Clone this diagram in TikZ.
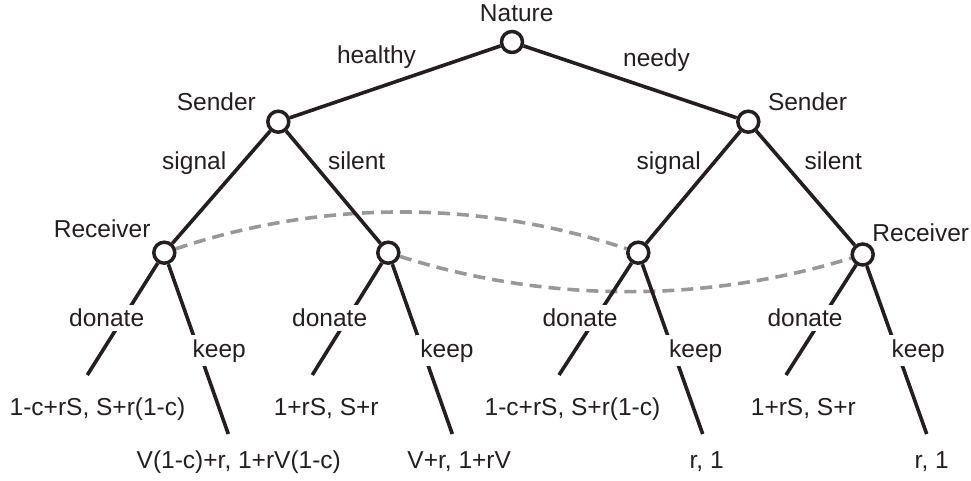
\documentclass[tikz,border=0pt]{standalone}
\usepackage{fontspec}
\setmainfont{Liberation Sans}
\definecolor{ink}{RGB}{35,31,32}
\definecolor{dashgray}{RGB}{152,152,155}
\begin{document}
\begin{tikzpicture}[x=1pt,y=-1pt,
  dec/.style={circle,draw=ink,line width=3.5pt,fill=white,minimum size=21pt,inner sep=0pt},
  edge/.style={line width=3.6pt,draw=ink},
  info/.style={line width=3.6pt,draw=dashgray,dash pattern=on 12pt off 7pt},
  lab/.style={font=\fontsize{24.5pt}{29pt}\selectfont,anchor=base,inner sep=1pt,text=ink},
  cut/.style={lab,inner sep=4pt,fill=white}]
\useasboundingbox (0,0) rectangle (971,481);
% decision nodes
\node[dec] (nat) at (512,42) {};
\node[dec] (s1) at (278.3,121.7) {};
\node[dec] (s2) at (748.3,121.7) {};
\node[dec] (r1) at (164.3,252.7) {};
\node[dec] (r2) at (388.3,252.7) {};
\node[dec] (r3) at (638.3,252.7) {};
\node[dec] (r4) at (862.7,254.5) {};
% leaf ends
\coordinate (d1) at (87.3,375);
\coordinate (d2) at (312.3,375);
\coordinate (d3) at (559,375);
\coordinate (d4) at (786,375);
\coordinate (k1) at (228.3,434);
\coordinate (k2) at (452.3,434);
\coordinate (k3) at (702.7,434);
\coordinate (k4) at (926.7,434);
% information sets
\draw[info] (r1) .. controls (322,199.7) and (480,199.7) .. (r3);
\draw[info] (r2) .. controls (546.3,303) and (704.7,303.3) .. (r4);
% edges
\draw[edge] (nat) -- (s1);
\draw[edge] (nat) -- (s2);
\draw[edge] (s1) -- (r1);
\draw[edge] (s1) -- (r2);
\draw[edge] (s2) -- (r3);
\draw[edge] (s2) -- (r4);
\draw[edge] (r1) -- (d1);
\draw[edge] (r1) -- (k1);
\draw[edge] (r2) -- (d2);
\draw[edge] (r2) -- (k2);
\draw[edge] (r3) -- (d3);
\draw[edge] (r3) -- (k3);
\draw[edge] (r4) -- (d4);
\draw[edge] (r4) -- (k4);
% labels
\node[lab] (lnat) at (516.7,21.5) {Nature};
\node[lab] (lhealthy) at (376.5,64) {healthy};
\node[lab] (lneedy) at (656.5,66.7) {needy};
\node[lab] (ls1) at (216.3,111) {Sender};
\node[lab] (ls2) at (807.5,111) {Sender};
\node[lab] (lsig1) at (194.2,170) {signal};
\node[lab] (lsil1) at (356.7,170) {silent};
\node[lab] (lsig2) at (668.7,170) {signal};
\node[lab] (lsil2) at (833.3,170) {silent};
\node[lab] (lr1) at (102.2,237.5) {Receiver};
\node[lab] (lr4) at (920.8,241) {Receiver};
\node[cut] (ld1) at (106.7,326.5) {donate};
\node[cut] (ld2) at (329.7,326.5) {donate};
\node[cut] (ld3) at (580,326.5) {donate};
\node[cut] (ld4) at (805,326.5) {donate};
\node[cut] (lk1) at (219.3,357) {keep};
\node[cut] (lk2) at (447,357) {keep};
\node[cut] (lk3) at (695.8,357) {keep};
\node[cut] (lk4) at (918.3,357) {keep};
\node[lab] (p1) at (97.5,415) {1-c+rS, S+r(1-c)};
\node[lab] (p3) at (326.2,415) {1+rS, S+r};
\node[lab] (p5) at (572.5,415) {1-c+rS, S+r(1-c)};
\node[lab] (p7) at (803.3,415) {1+rS, S+r};
\node[lab] (p2) at (238.8,468) {V(1-c)+r, 1+rV(1-c)};
\node[lab] (p4) at (459.2,468) {V+r, 1+rV};
\node[lab] (p6) at (706.7,468) {r, 1};
\node[lab] (p8) at (931.7,468) {r, 1};
\end{tikzpicture}
\end{document}
